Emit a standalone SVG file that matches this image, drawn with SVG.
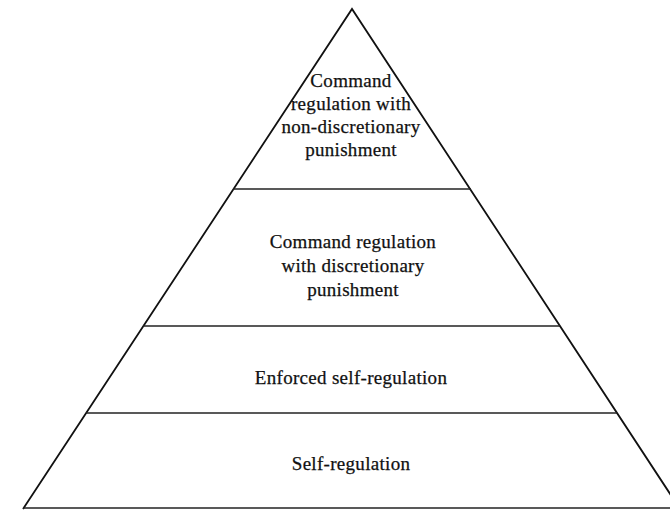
<svg xmlns="http://www.w3.org/2000/svg" width="670" height="510" viewBox="0 0 670 510">
  <style>
    .edge { stroke: #111; stroke-width: 1.8; fill: none; stroke-linejoin: miter; }
    .rule { stroke: #222; stroke-width: 1.4; fill: none; }
    .lbl { font-family: "Liberation Serif", "DejaVu Serif", serif; font-size: 19px; letter-spacing: 0.3px; fill: #111; stroke: #111; stroke-width: 0.25; text-anchor: middle; }
  </style>
  <rect width="670" height="510" fill="#fff"/>

  <!-- pyramid outline and tier dividers -->
  <g id="connectors">
    <polyline class="edge" points="23,509 352,9 680,509"/>
    <line class="rule" x1="233" y1="189" x2="471" y2="189"/>
    <line class="rule" x1="143" y1="326" x2="560" y2="326"/>
    <line class="rule" x1="86" y1="413" x2="617" y2="413"/>
    <line class="rule" x1="23" y1="508" x2="670" y2="508"/>
  </g>

  <g id="tier-command-nondiscretionary">
    <text class="lbl" x="351" y="87">Command</text>
    <text class="lbl" x="351" y="110">regulation with</text>
    <text class="lbl" x="351" y="133">non-discretionary</text>
    <text class="lbl" x="351" y="156">punishment</text>
  </g>

  <g id="tier-command-discretionary">
    <text class="lbl" x="353" y="248">Command regulation</text>
    <text class="lbl" x="353" y="272">with discretionary</text>
    <text class="lbl" x="353" y="296">punishment</text>
  </g>

  <g id="tier-enforced-self-regulation">
    <text class="lbl" x="351" y="384">Enforced self-regulation</text>
  </g>

  <g id="tier-self-regulation">
    <text class="lbl" x="351" y="470">Self-regulation</text>
  </g>
</svg>
